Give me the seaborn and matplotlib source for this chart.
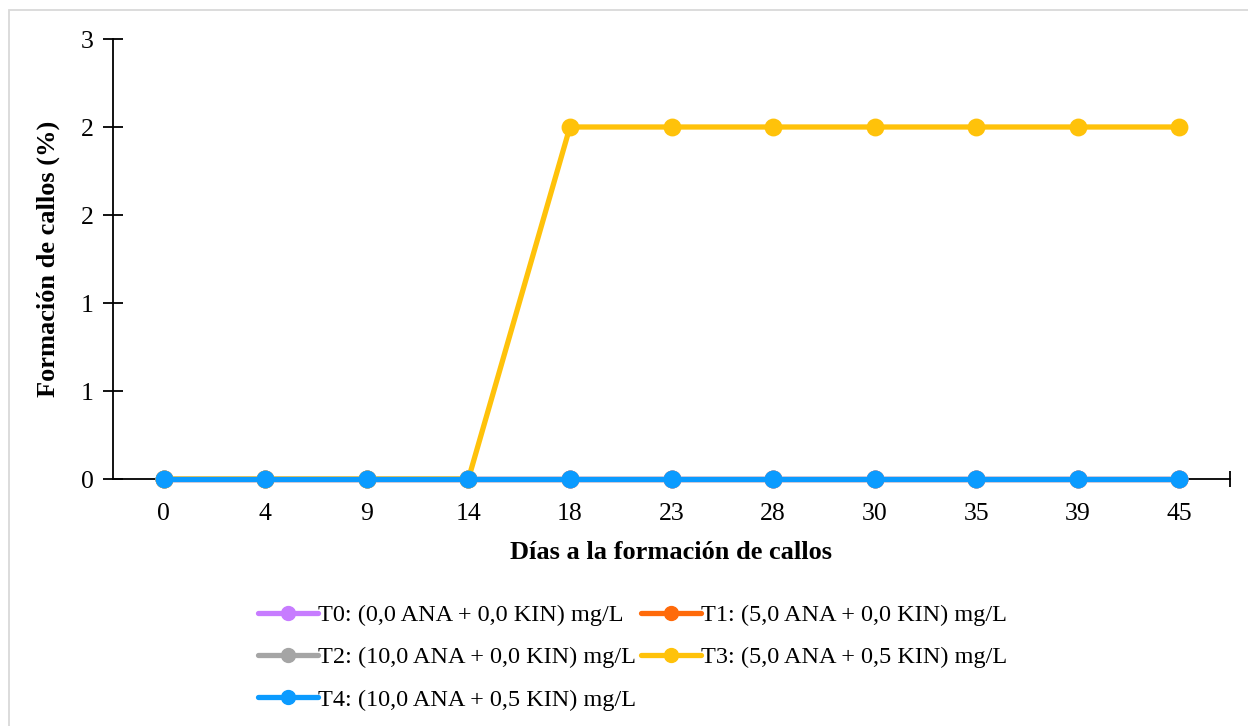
import matplotlib
matplotlib.use("Agg")
import matplotlib.pyplot as plt
from matplotlib.patches import Rectangle
from matplotlib.lines import Line2D
import pandas as pd
import seaborn as sns

# Days of observation (categorical x axis)
days = ["0", "4", "9", "14", "18", "23", "28", "30", "35", "39", "45"]

# Callus formation (%) per treatment
t0 = [0, 0, 0, 0, 0, 0, 0, 0, 0, 0, 0]
t1 = [0, 0, 0, 0, 0, 0, 0, 0, 0, 0, 0]
t2 = [0, 0, 0, 0, 0, 0, 0, 0, 0, 0, 0]
t3 = [0, 0, 0, 0, 2, 2, 2, 2, 2, 2, 2]
t4 = [0, 0, 0, 0, 0, 0, 0, 0, 0, 0, 0]

treatments = [
    "T0: (0,0 ANA + 0,0 KIN) mg/L",
    "T1: (5,0 ANA + 0,0 KIN) mg/L",
    "T2: (10,0 ANA + 0,0 KIN) mg/L",
    "T3: (5,0 ANA + 0,5 KIN) mg/L",
    "T4: (10,0 ANA + 0,5 KIN) mg/L",
]
colors = ["#C77CFF", "#FF6A0A", "#A5A5A5", "#FFC20A", "#0B9BFF"]

y_ticks = [0, 0.5, 1.0, 1.5, 2.0, 2.5]
y_tick_labels = ["0", "1", "1", "2", "2", "3"]

sns.set_theme(style="white")
plt.rcParams["font.family"] = ["Liberation Serif", "DejaVu Serif"]
plt.rcParams["text.color"] = "black"

series = [t0, t1, t2, t3, t4]
df = pd.DataFrame({
    "day": days * len(treatments),
    "value": [v for s in series for v in s],
    "treatment": [t for t, s in zip(treatments, series) for _ in s],
})

fig = plt.figure(figsize=(12.48, 7.26), dpi=100)
ax = fig.add_axes([113 / 1248, 1 - 479 / 726, (1230 - 113) / 1248, (479 - 39) / 726])

palette = dict(zip(treatments, colors))
sns.pointplot(
    data=df, x="day", y="value", hue="treatment", order=days,
    hue_order=treatments, palette=palette, errorbar=None, markers="o",
    linestyles="-", markersize=10, linewidth=3.8, dodge=False, ax=ax,
    legend=False,
)

# Keep the series drawn over the axis line at zero
for i, ln in enumerate(ax.lines):
    ln.set_clip_on(False)
    ln.set_zorder(5 + i)
for i, coll in enumerate(ax.collections):
    coll.set_clip_on(False)
    coll.set_zorder(5 + i)

ax.set_xlim(-0.5, len(days) - 0.5)
ax.set_ylim(0, 2.5)
ax.set_yticks(y_ticks)
ax.set_yticklabels(y_tick_labels)

for side in ["top", "right"]:
    ax.spines[side].set_visible(False)
for side in ["left", "bottom"]:
    ax.spines[side].set_color("black")
    ax.spines[side].set_linewidth(1.3)

ax.tick_params(axis="y", direction="inout", length=14, width=1.3, color="black",
               labelsize=18.5, pad=7, left=True, labelcolor="black")
ax.tick_params(axis="x", length=0, labelsize=18.5, pad=17, bottom=True,
               labelcolor="black")
# single boundary tick at the right end of the category axis
ax.xaxis.set_minor_locator(matplotlib.ticker.FixedLocator([len(days) - 0.5]))
ax.tick_params(axis="x", which="minor", direction="inout", length=11, width=1.3,
               color="black", bottom=True)

ax.set_xlabel("Días a la formación de callos", fontsize=19, fontweight="bold",
              color="black", labelpad=12)
ax.set_ylabel("Formación de callos (%)", fontsize=19, fontweight="bold",
              color="black", labelpad=5)
ax.yaxis.set_label_coords(-53 / 1117, 0.5)

# Legend in row-major order across two columns
handles = [Line2D([0], [0], color=c, lw=3.8, marker="o", markersize=10) for c in colors]
order = [0, 2, 4, 1, 3]
fig.legend([handles[i] for i in order], [treatments[i] for i in order],
           ncol=2, loc="upper left", bbox_to_anchor=(258 / 1248, 1 - 604 / 726),
           frameon=False, fontsize=17.5, handlelength=2.47, handletextpad=0.0,
           columnspacing=0.2, labelspacing=0.84, borderpad=0, borderaxespad=0,
           labelcolor="black")

# Light chart-area border
fig.patches.append(Rectangle((8.5 / 1248, -0.1), 1.2, 1.1 - 9.5 / 726,
                             transform=fig.transFigure, fill=False,
                             edgecolor="#D9D9D9", linewidth=1.3))

fig.savefig("out.png", dpi=100)
